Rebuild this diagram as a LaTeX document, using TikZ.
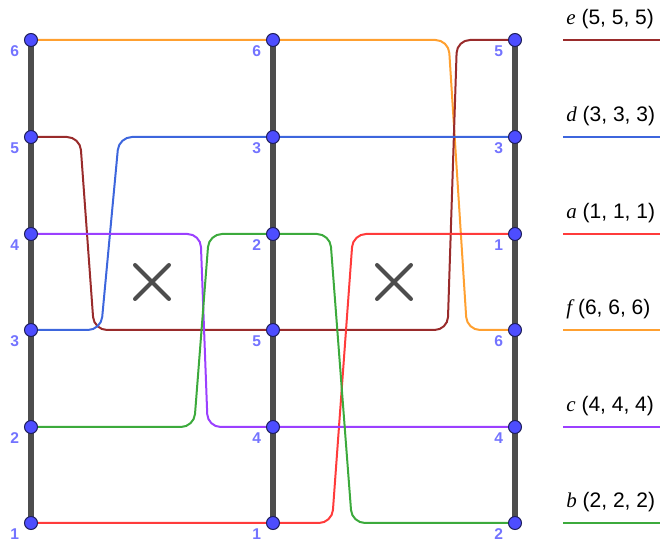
\documentclass[tikz,border=0pt]{standalone}
\usepackage{fontspec}
\setmainfont{Liberation Sans}
\newfontfamily\serifit{Liberation Serif}
\usepackage{tikz}
\usetikzlibrary{positioning,shapes.misc,backgrounds}
\definecolor{ptfill}{HTML}{4D4DFF}
\definecolor{ptdraw}{HTML}{1F1F5C}
\definecolor{ptlab}{HTML}{7373FF}
\definecolor{axisgray}{HTML}{4D4D4D}
\definecolor{colA}{HTML}{FF3B3B}
\definecolor{colB}{HTML}{3CAA3C}
\definecolor{colC}{HTML}{9B40FF}
\definecolor{colD}{HTML}{3D66DD}
\definecolor{colE}{HTML}{992B2B}
\definecolor{colF}{HTML}{FFA030}
\newcommand{\letr}[1]{{\serifit\itshape #1}}

\tikzset{
  pt/.style={circle,fill=ptfill,draw=ptdraw,line width=0.5pt,inner sep=0pt,minimum size=6.5pt},
  lab/.style={text=ptlab,font=\bfseries\fontsize{7.8}{9}\selectfont,inner sep=1pt,xshift=-2.3pt,yshift=1pt},
  axisline/.style={axisgray,line width=3pt},
  track/.style={line width=1pt,rounded corners=6.5pt},
  xmark/.style={cross out,draw=axisgray,line width=2pt,line cap=round,minimum size=15pt,inner sep=0pt},
  legtext/.style={anchor=base west,inner sep=0pt,font=\fontsize{10.5}{12}\selectfont},
}

\begin{document}
\begin{tikzpicture}[x=0.5pt,y=-0.5pt]
\useasboundingbox (0,0) rectangle (660,539);

% points on the three axes
\foreach \v/\y in {6/40,5/137,4/234,3/330,2/427,1/523}
  \node[pt,label={[lab]below left:\v}] (L\v) at (31,\y) {};
\foreach \v/\y in {6/40,3/137,2/234,5/330,4/427,1/523}
  \node[pt,label={[lab]below left:\v}] (M\v) at (273,\y) {};
\foreach \v/\y in {5/40,3/137,1/234,6/330,4/427,2/523}
  \node[pt,label={[lab]below left:\v}] (R\v) at (515,\y) {};

\node[xmark] (x1) at (152,282) {};
\node[xmark] (x2) at (394,282) {};

\begin{scope}[on background layer]
\draw[axisline] (L6.center) -- (L1.center);
\draw[axisline] (M6.center) -- (M1.center);
\draw[axisline] (R5.center) -- (R2.center);

% f
\draw[track,colF] (L6.center) -- (M6.center) -- (448.5,40) -- (467,330) -- (R6.center);
% e
\draw[track,colE] (L5.center) -- (80,137) -- (94,330) -- (M5.center) -- (447.6,330) -- (457,40) -- (R5.center);
% d
\draw[track,colD] (L3.center) -- (101,330) -- (119,137) -- (M3.center) -- (R3.center);
% a
\draw[track,colA] (L1.center) -- (M1.center) -- (332,523) -- (353,234) -- (R1.center);
% c
\draw[track,colC] (L4.center) -- (200.5,234) -- (207.7,427) -- (M4.center) -- (R4.center);
% b
\draw[track,colB] (L2.center) -- (194,427) -- (209,234) -- (M2.center) -- (330,234) -- (352,523) -- (R2.center);
\end{scope}

% legend
\foreach \n/\v/\c/\y in {e/5/colE/40,d/3/colD/137,a/1/colA/234,f/6/colF/330,c/4/colC/427,b/2/colB/523}{
  \node[legtext] (leg\n) at (566,\y-15) {\letr{\n} (\v, \v, \v)};
  \coordinate (k\n) at (563,\y);
  \coordinate (k\n') at (660,\y);
  \draw[\c,line width=1pt] (k\n) -- (k\n');
}
\end{tikzpicture}
\end{document}
